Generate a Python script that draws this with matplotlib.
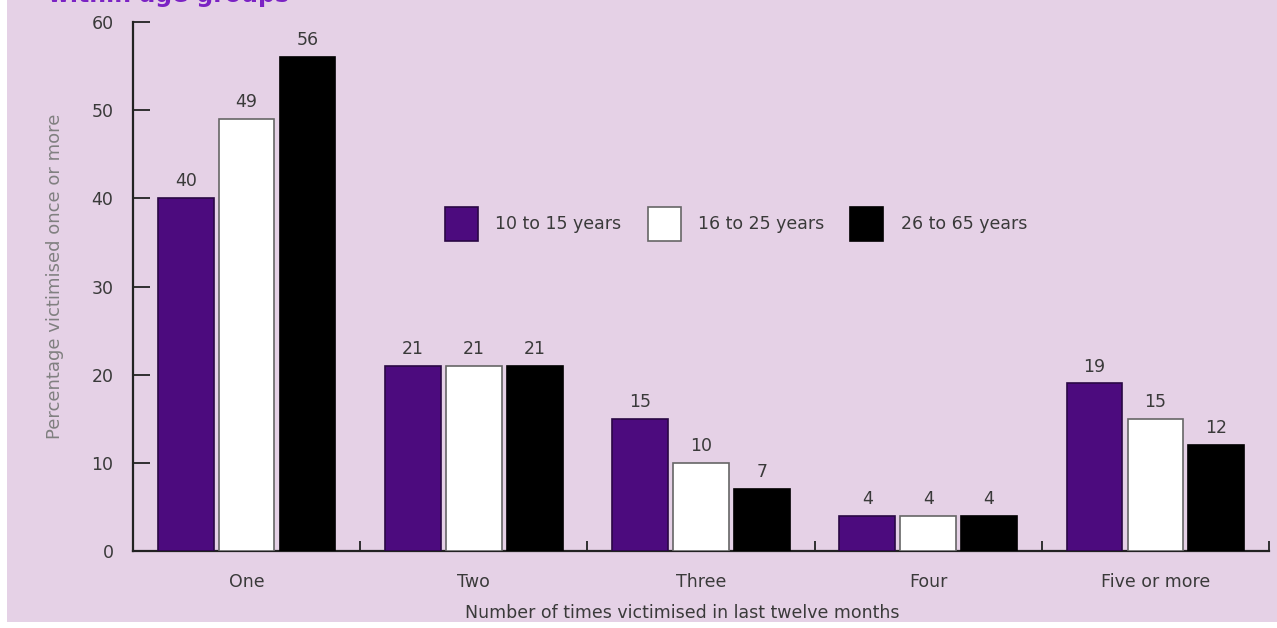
import matplotlib.pyplot as plt
import numpy as np
from matplotlib.patches import Rectangle

# data
grupos = ['One', 'Two', 'Three', 'Four', 'Five or more']
edades = ['10 to 15 years', '16 to 25 years', '26 to 65 years']
v_10_15 = [40, 21, 15, 4, 19]
v_16_25 = [49, 21, 10, 4, 15]
v_26_65 = [56, 21, 7, 4, 12]

fondo = '#e5d1e6'
colores = ['#4c0b7e', '#ffffff', '#000000']
bordes = ['#2a0845', '#666666', '#000000']
gris = '#3a3a3a'

fig = plt.figure(figsize=(12.77, 6.28), dpi=100)
fig.patch.set_facecolor('white')
# patterned backdrop area
fig.patches.append(Rectangle((7 / 1277, 6 / 628), 1 - 7 / 1277, 1 - 6 / 628,
                             transform=fig.transFigure, facecolor=fondo,
                             edgecolor='none', zorder=-5))

ax = fig.add_axes([133 / 1277, 1 - 551 / 628, (1269 - 133) / 1277, (551 - 22) / 628])
ax.set_facecolor('none')
ax.set_zorder(2)

x = np.arange(len(grupos))
ancho = 0.245
paso = 0.268
series = [v_10_15, v_16_25, v_26_65]
for k, vals in enumerate(series):
    pos = x + (k - 1) * paso
    barras = ax.bar(pos, vals, ancho, color=colores[k], edgecolor=bordes[k],
                    linewidth=1.2, label=edades[k], zorder=3)
    for p, v in zip(pos, vals):
        ax.text(p, v + 0.9, str(v), ha='center', va='bottom',
                fontsize=12.5, color=gris)

ax.set_xlim(-0.5, 4.5)
ax.set_ylim(0, 60)
ax.set_yticks(range(0, 61, 10))
ax.tick_params(axis='y', direction='in', length=12, width=1.3, colors='#222',
               labelcolor=gris, labelsize=12.5, pad=14)

# category labels and small boundary ticks on the x axis
ax.set_xticks(x)
ax.set_xticklabels(grupos, fontsize=12.5, color=gris)
ax.tick_params(axis='x', length=0, pad=16)
ax.set_xticks(np.arange(0.5, 5, 1), minor=True)
ax.tick_params(axis='x', which='minor', direction='in', length=7, width=1.3, colors='#222')

for s in ['top', 'right']:
    ax.spines[s].set_visible(False)
for s in ['left', 'bottom']:
    ax.spines[s].set_linewidth(1.6)
    ax.spines[s].set_color('#222')

ax.set_ylabel('Percentage victimised once or more', fontsize=13, color='#808080')
ax.yaxis.set_label_coords(-0.061, 0.52)
ax.set_xlabel('Number of times victimised in last twelve months', fontsize=12.5, color=gris)
ax.xaxis.set_label_coords((682 - 133) / (1269 - 133), -0.1)

ax.legend(loc='center left', bbox_to_anchor=(0.261, 0.618), ncol=3, frameon=False,
          handlelength=1.9, handleheight=2.7, handletextpad=1.0, columnspacing=1.5,
          fontsize=12.5, labelcolor=gris)

fig.text(48 / 1277, 1 - 2 / 628, 'within age groups', fontsize=17, fontweight='bold',
         color='#7b22c4', ha='left', va='baseline')

fig.savefig('out.png', dpi=100, facecolor=fig.get_facecolor())
